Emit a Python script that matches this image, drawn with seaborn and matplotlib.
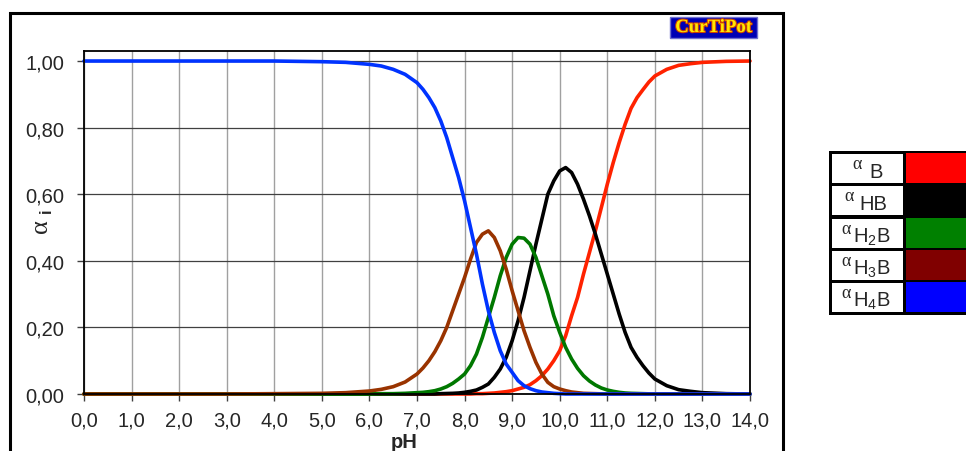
import numpy as np
import pandas as pd
import matplotlib
matplotlib.use('Agg')
import matplotlib.pyplot as plt
import seaborn as sns
from matplotlib.patches import Rectangle
import matplotlib.patheffects as pe

# ---------------- data ----------------
pH = [0, 1, 2, 3, 4, 5, 5.5, 6, 6.25, 6.5, 6.75,
      7.0, 7.125, 7.25, 7.375, 7.5, 7.625, 7.75, 7.875,
      8.0, 8.125, 8.25, 8.375, 8.5, 8.625, 8.75, 8.875,
      9.0, 9.125, 9.25, 9.375, 9.5, 9.625, 9.75, 9.875,
      10.0, 10.125, 10.25, 10.375, 10.5, 10.625, 10.75, 10.875,
      11.0, 11.125, 11.25, 11.375, 11.5, 11.625, 11.75, 11.875,
      12.0, 12.25, 12.5, 12.75, 13, 13.5, 14]

alpha_B = [0, 0, 0, 0, 0, 0, 0, 0, 0, 0, 0,
           0, 0, 0, 0, 0, 0, 0, 0,
           0, 0, 0.001, 0.001, 0.002, 0.003, 0.005, 0.007,
           0.01, 0.015, 0.02, 0.028, 0.04, 0.055, 0.075, 0.10,
           0.13, 0.175, 0.235, 0.29, 0.36, 0.425, 0.49, 0.56,
           0.63, 0.695, 0.755, 0.81, 0.858, 0.89, 0.914, 0.937,
           0.955, 0.975, 0.987, 0.992, 0.996, 0.999, 1.0]

alpha_HB = [0, 0, 0, 0, 0, 0, 0, 0, 0, 0, 0,
            0, 0, 0, 0, 0.001, 0.0015, 0.002, 0.003,
            0.005, 0.008, 0.012, 0.02, 0.03, 0.05, 0.075, 0.11,
            0.16, 0.22, 0.29, 0.37, 0.45, 0.525, 0.60, 0.64,
            0.67, 0.68, 0.665, 0.63, 0.585, 0.535, 0.48, 0.42,
            0.36, 0.30, 0.24, 0.185, 0.14, 0.11, 0.085, 0.063,
            0.045, 0.025, 0.013, 0.008, 0.004, 0.001, 0]

alpha_H2B = [0, 0, 0, 0, 0, 0, 0, 0, 0.001, 0.001, 0.002,
             0.004, 0.005, 0.007, 0.01, 0.015, 0.022, 0.032, 0.045,
             0.06, 0.085, 0.12, 0.17, 0.23, 0.29, 0.355, 0.41,
             0.45, 0.47, 0.468, 0.45, 0.41, 0.355, 0.30, 0.235,
             0.185, 0.14, 0.105, 0.077, 0.055, 0.039, 0.027, 0.018,
             0.012, 0.008, 0.005, 0.003, 0.002, 0.0015, 0.001, 0.0005,
             0, 0, 0, 0, 0, 0, 0]

alpha_H3B = [0, 0, 0, 0, 0.001, 0.002, 0.004, 0.009, 0.014, 0.022, 0.036,
             0.06, 0.078, 0.10, 0.127, 0.16, 0.20, 0.25, 0.30,
             0.35, 0.405, 0.455, 0.48, 0.49, 0.47, 0.43, 0.375,
             0.31, 0.25, 0.19, 0.14, 0.095, 0.06, 0.035, 0.022,
             0.015, 0.01, 0.006, 0.004, 0.002, 0.0015, 0.001, 0.0005,
             0, 0, 0, 0, 0, 0, 0, 0,
             0, 0, 0, 0, 0, 0, 0]

alpha_H4B = [1, 1, 1, 1, 1, 0.998, 0.996, 0.99, 0.985, 0.975, 0.96,
             0.935, 0.915, 0.89, 0.86, 0.82, 0.77, 0.71, 0.65,
             0.58, 0.50, 0.42, 0.33, 0.25, 0.185, 0.13, 0.09,
             0.065, 0.04, 0.025, 0.016, 0.01, 0.006, 0.004, 0.002,
             0.001, 0, 0, 0, 0, 0, 0, 0,
             0, 0, 0, 0, 0, 0, 0, 0,
             0, 0, 0, 0, 0, 0, 0]

species = ['B', 'HB', 'H2B', 'H3B', 'H4B']
series = [alpha_B, alpha_HB, alpha_H2B, alpha_H3B, alpha_H4B]
line_colors = ['#FF2200', '#000000', '#007800', '#993300', '#0033FF']
legend_colors = ['#FF0000', '#000000', '#008000', '#800000', '#0000FF']
legend_labels = ['B', 'HB', r'H$_2$B', r'H$_3$B', r'H$_4$B']

x_ticks = list(range(0, 15))
x_tick_labels = ['0,0', '1,0', '2,0', '3,0', '4,0', '5,0', '6,0', '7,0',
                 '8,0', '9,0', '10,0', '11,0', '12,0', '13,0', '14,0']
y_ticks = [0.0, 0.2, 0.4, 0.6, 0.8, 1.0]
y_tick_labels = ['0,00', '0,20', '0,40', '0,60', '0,80', '1,00']

# ---------------- style ----------------
sns.set_style('white')
plt.rcParams['font.family'] = ['Liberation Sans', 'DejaVu Sans']
plt.rcParams['mathtext.fontset'] = 'custom'
plt.rcParams['mathtext.rm'] = 'Liberation Sans'
plt.rcParams['mathtext.it'] = 'Liberation Sans:italic'
plt.rcParams['mathtext.bf'] = 'Liberation Sans:bold'

W, H = 966, 452
fig = plt.figure(figsize=(W / 100, H / 100), dpi=100)
fig.patch.set_facecolor('white')


def fx(px):
    return px / W


def fy(py):
    return 1 - py / H


def rect_px(x0, y0, x1, y1, **kw):
    return Rectangle((fx(x0), fy(y1)), (x1 - x0) / W, (y1 - y0) / H,
                     transform=fig.transFigure, **kw)


# outer frame
fig.add_artist(rect_px(10, 14, 783, 470, fill=False, ec='black', lw=2.2))

ax = fig.add_axes([fx(84), fy(395), (750 - 84) / W, (395 - 51.7) / H])

df = pd.DataFrame({
    'pH': pH * len(species),
    'alpha': sum(series, []),
    'species': np.repeat(species, len(pH)),
})
sns.lineplot(data=df, x='pH', y='alpha', hue='species', hue_order=species,
             palette=line_colors, linewidth=2.6, legend=False, ax=ax,
             estimator=None, sort=False, clip_on=False)
for ln in ax.get_lines():
    ln.set_solid_joinstyle('round')

ax.set_xlim(0, 14)
ax.set_ylim(0, 1.031)
ax.set_xticks(x_ticks)
ax.set_xticklabels(x_tick_labels)
ax.set_yticks(y_ticks)
ax.set_yticklabels(y_tick_labels)
ax.set_xlabel('')
ax.set_ylabel('')
ax.set_axisbelow(True)
ax.grid(axis='x', color='#A0A0A0', lw=1.0)
ax.grid(axis='y', color='#404040', lw=0.9)
for s in ax.spines.values():
    s.set_color('black')
    s.set_linewidth(1.3)
ax.tick_params(axis='x', direction='out', length=5, width=1, color='#404040',
               labelsize=14.5, pad=7, bottom=True)
ax.tick_params(axis='y', direction='out', length=5, width=1, color='#404040',
               labelsize=14.5, pad=9, left=True)

# axis titles
fig.text(fx(41), fy(226), 'α', family='Liberation Serif', rotation=90,
         fontsize=19, ha='center', va='center')
fig.text(fx(46), fy(211), 'i', fontweight='bold', rotation=90,
         fontsize=12, ha='center', va='center')
fig.text(fx(404), fy(443), 'pH', fontsize=14.5, fontweight='bold',
         ha='center', va='center')

# CurTiPot logo
fig.add_artist(rect_px(670, 18, 757, 39, fc='#0000B4', ec='#7070D0', lw=1))
fig.text(fx(713.5), fy(28.5), 'CurTiPot', fontsize=13.5, fontweight='bold',
         family='Liberation Serif', color='#FFE800', ha='center', va='center',
         path_effects=[pe.withStroke(linewidth=1.5, foreground='#D04000')])

# legend table
fig.add_artist(rect_px(829, 151.5, 975, 316, fc='black', ec='none'))
alpha_centers = [857.5, 849, 846, 846, 846]
label_left = [869, 859, 853, 853, 853]
for i in range(5):
    top = 154 + 32.3 * i
    fig.add_artist(rect_px(832, top + 1, 903, top + 30, fc='white', ec='none'))
    fig.add_artist(rect_px(906, top, 975, top + 30, fc=legend_colors[i], ec='none'))
    cy = top + 15.5
    fig.text(fx(label_left[i]), fy(cy + 3), legend_labels[i], fontsize=14.5,
             ha='left', va='center')
    fig.text(fx(alpha_centers[i]), fy(cy - 5), 'α', family='Liberation Serif',
             fontsize=13, ha='center', va='center')

fig.savefig('out.png', dpi=100)
